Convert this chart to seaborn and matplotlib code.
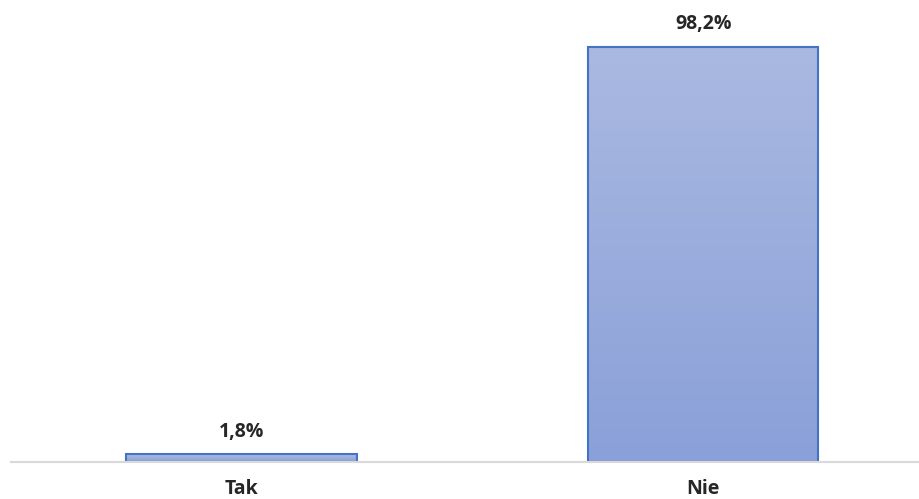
import numpy as np
import pandas as pd
import matplotlib
matplotlib.use('Agg')
import matplotlib.pyplot as plt
import seaborn as sns
from matplotlib.colors import LinearSegmentedColormap

# Dane
kategorie = ['Tak', 'Nie']
wartosci = [1.8, 98.2]
etykiety = ['1,8%', '98,2%']

df = pd.DataFrame({'Odpowiedz': kategorie, 'Procent': wartosci})

sns.set_style('white')
plt.rcParams['font.family'] = ['Open Sans', 'DejaVu Sans']

fig = plt.figure(figsize=(9.2, 4.99), dpi=100)
ax = fig.add_axes([11 / 920, 37 / 499, 909 / 920, 462 / 499])

sns.barplot(data=df, x='Odpowiedz', y='Procent', ax=ax, width=0.5,
            color='#98AADB', edgecolor='#4472C4', linewidth=1.5)

# Gradient w slupkach
gradient = LinearSegmentedColormap.from_list('grad', ['#8AA0D8', '#AAB9E1'])
grad_img = np.linspace(0, 1, 256).reshape(-1, 1)
for patch in ax.patches:
    x0, y0 = patch.get_x(), patch.get_y()
    w, h = patch.get_width(), patch.get_height()
    im = ax.imshow(grad_img, cmap=gradient, origin='lower', aspect='auto',
                   extent=[x0, x0 + w, y0, y0 + h], zorder=patch.get_zorder())
    im.set_clip_path(patch)
    patch.set_facecolor('none')
    patch.set_zorder(patch.get_zorder() + 1)

ax.set_xlim(-0.5, 1.47)
ax.set_ylim(0, 109.3)

# Etykiety danych
for i, (v, t) in enumerate(zip(wartosci, etykiety)):
    ax.text(i, v + 3.0, t, ha='center', va='bottom', fontsize=14,
            fontweight='bold', color='#262626')

for s in ['top', 'right', 'left']:
    ax.spines[s].set_visible(False)
ax.spines['bottom'].set_color('#D9D9D9')
ax.spines['bottom'].set_linewidth(1.5)

ax.set_yticks([])
ax.set_xlabel('')
ax.set_ylabel('')
ax.tick_params(axis='x', length=0, pad=12)
for lab in ax.get_xticklabels():
    lab.set_fontweight('bold')
    lab.set_fontsize(14)
    lab.set_color('#262626')

fig.savefig('out.png', dpi=100)
